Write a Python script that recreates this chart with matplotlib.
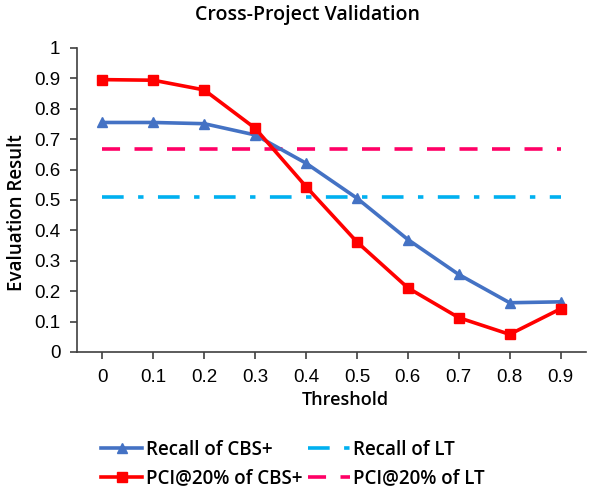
import matplotlib
matplotlib.use("Agg")
import matplotlib.pyplot as plt

thresholds = ["0", "0.1", "0.2", "0.3", "0.4", "0.5", "0.6", "0.7", "0.8", "0.9"]
recall_cbs = [0.755, 0.755, 0.751, 0.714, 0.621, 0.506, 0.370, 0.255, 0.162, 0.165]
pci_cbs = [0.896, 0.894, 0.862, 0.736, 0.544, 0.362, 0.211, 0.113, 0.058, 0.142]
recall_lt = 0.511
pci_lt = 0.668
yticks = [0, 0.1, 0.2, 0.3, 0.4, 0.5, 0.6, 0.7, 0.8, 0.9, 1]
ytick_labels = ["0", "0.1", "0.2", "0.3", "0.4", "0.5", "0.6", "0.7", "0.8", "0.9", "1"]

plt.rcParams['font.family'] = ['Liberation Sans', 'DejaVu Sans']
label_font = ['Open Sans', 'DejaVu Sans']

fig = plt.figure(figsize=(6.09, 4.88), dpi=100)
ax = fig.add_axes([77/609, 1 - 352/488, (586-77)/609, (352-48)/488])

x = list(range(len(thresholds)))
ax.plot(x, recall_cbs, color='#4472C4', lw=2.6, marker='^', ms=7, label='Recall of CBS+', zorder=3)
ax.plot(x, [recall_lt]*len(x), color='#00B0F0', lw=2.6, dashes=(6, 4, 1.5, 4), label='Recall of LT', zorder=2)
ax.plot(x, pci_cbs, color='#FF0000', lw=2.6, marker='s', ms=7, label='PCI@20% of CBS+', zorder=4)
ax.plot(x, [pci_lt]*len(x), color='#FF0066', lw=2.6, dashes=(5, 4), label='PCI@20% of LT', zorder=2)

ax.set_xlim(-0.5, len(x) - 0.5)
ax.set_ylim(0, 1)
ax.set_xticks(x)
ax.set_xticklabels(thresholds, fontsize=13.5)
ax.set_yticks(yticks)
ax.set_yticklabels(ytick_labels, fontsize=13.5)
for s in ['top', 'right']:
    ax.spines[s].set_visible(False)
for s in ['left', 'bottom']:
    ax.spines[s].set_color('#404040')
    ax.spines[s].set_linewidth(1.2)
ax.tick_params(direction='out', length=5, width=1.2, color='#404040', pad=7)

fig.text(345/609, 1 - 400/488, 'Threshold', ha='center', va='center',
         fontsize=13, fontweight='semibold', family=label_font)
fig.text(17/609, 1 - 213/488, 'Evaluation Result', ha='center', va='center', rotation=90,
         fontsize=13.5, fontweight='semibold', family=label_font)
fig.text(307/609, 1 - 15/488, 'Cross-Project Validation', ha='center', va='center',
         fontsize=14, fontweight='semibold', family=label_font)

h, l = ax.get_legend_handles_labels()
order = [0, 2, 1, 3]
fig.legend([h[i] for i in order], [l[i] for i in order], ncol=2, frameon=False,
           loc='center', bbox_to_anchor=(293/609, 1 - 464/488),
           handlelength=2.2, handletextpad=0.2, columnspacing=0.3, labelspacing=0.45,
           prop={'weight': 'semibold', 'size': 13.5, 'family': label_font})

fig.savefig('out.png', dpi=100)
